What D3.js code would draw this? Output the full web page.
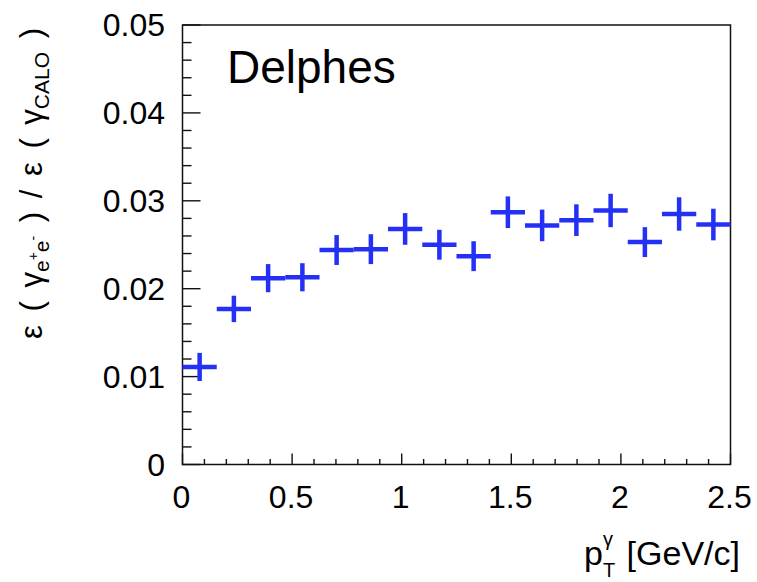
<!DOCTYPE html>
<html>
<head>
<meta charset="utf-8">
<script src="https://cdn.jsdelivr.net/npm/d3@7"></script>
<style>
    body { margin: 0; background: #fff; }
    text { font-family: "Liberation Sans", Arial, Helvetica, sans-serif; fill: #000; }
</style>
</head>
<body>
<svg id="chart" width="757" height="582"></svg>
<script>
    // histogram bins (pT of the photon, GeV/c)
    var binLow = [0, 0.15625, 0.3125, 0.46875, 0.625, 0.78125, 0.9375, 1.09375,
        1.25, 1.40625, 1.5625, 1.71875, 1.875, 2.03125, 2.1875, 2.34375];
    var binWidth = 0.15625;
    // ratio eff(gamma -> e+e-) / eff(gamma CALO)
    var ratio = [0.0111, 0.0177, 0.0212, 0.0213, 0.0244, 0.0245, 0.0268, 0.0250,
        0.0237, 0.0287, 0.0272, 0.0278, 0.0289, 0.0253, 0.0285, 0.0273];
    var ratioErr = [0.0016, 0.0015, 0.0016, 0.0016, 0.0017, 0.0017, 0.0018, 0.0017,
        0.0017, 0.0018, 0.0018, 0.0018, 0.0019, 0.0017, 0.0019, 0.0018];
    var xTicks = [0, 0.5, 1, 1.5, 2, 2.5];
    var yTicks = [0, 0.01, 0.02, 0.03, 0.04, 0.05];
    var xTickLabels = ["0", "0.5", "1", "1.5", "2", "2.5"];
    var yTickLabels = ["0", "0.01", "0.02", "0.03", "0.04", "0.05"];

    var svg = d3.select("#chart");
    var frame = {left: 182.5, right: 730.5, top: 25, bottom: 464.5};

    var x = d3.scaleLinear().domain([0, 2.5]).range([frame.left, frame.right]);
    var y = d3.scaleLinear().domain([0, 0.05]).range([frame.bottom, frame.top]);

    var points = binLow.map(function (lo, i) {
        return {lo: lo, hi: lo + binWidth, v: ratio[i], e: ratioErr[i]};
    });

    // frame
    svg.append("rect")
        .attr("x", frame.left).attr("y", frame.top)
        .attr("width", frame.right - frame.left)
        .attr("height", frame.bottom - frame.top)
        .attr("fill", "none").attr("stroke", "#111").attr("stroke-width", 1.5);

    // y axis: major every 0.01, minor every 0.002, ticks pointing inwards
    var yMinor = d3.range(0, 26).map(function (k) { return k * 0.002; });
    svg.append("g").selectAll("line")
        .data(yMinor)
        .enter().append("line")
        .attr("x1", frame.left)
        .attr("x2", function (d, i) { return frame.left + (i % 5 === 0 ? 18 : 9); })
        .attr("y1", function (d) { return y(d); })
        .attr("y2", function (d) { return y(d); })
        .attr("stroke", "#111").attr("stroke-width", 1.4);

    // x axis: major every 0.5, minor every 0.1
    var xMinor = d3.range(0, 26).map(function (k) { return k / 10; });
    svg.append("g").selectAll("line")
        .data(xMinor)
        .enter().append("line")
        .attr("x1", function (d) { return x(d); })
        .attr("x2", function (d) { return x(d); })
        .attr("y1", frame.bottom)
        .attr("y2", function (d, i) { return frame.bottom - (i % 5 === 0 ? 11 : 5.5); })
        .attr("stroke", "#111").attr("stroke-width", 1.4);

    svg.append("g").selectAll("text")
        .data(yTicks)
        .enter().append("text")
        .attr("x", 165)
        .attr("y", function (d) { return y(d) + 11; })
        .attr("text-anchor", "end")
        .style("font-size", "32px")
        .text(function (d, i) { return yTickLabels[i]; });

    svg.append("g").selectAll("text")
        .data(xTicks)
        .enter().append("text")
        .attr("x", function (d) { return x(d) - 1; })
        .attr("y", 508)
        .attr("text-anchor", "middle")
        .style("font-size", "32px")
        .text(function (d, i) { return xTickLabels[i]; });

    // markers: horizontal bar = bin width, vertical bar = stat. error
    var marks = svg.append("g").attr("stroke", "#2430f5").attr("stroke-width", 4.5);
    marks.selectAll("line.h")
        .data(points)
        .enter().append("line")
        .attr("class", "h")
        .attr("x1", function (d) { return x(d.lo); })
        .attr("x2", function (d) { return x(d.hi); })
        .attr("y1", function (d) { return y(d.v); })
        .attr("y2", function (d) { return y(d.v); });
    marks.selectAll("line.v")
        .data(points)
        .enter().append("line")
        .attr("class", "v")
        .attr("x1", function (d) { return x((d.lo + d.hi) / 2); })
        .attr("x2", function (d) { return x((d.lo + d.hi) / 2); })
        .attr("y1", function (d) { return y(d.v - d.e); })
        .attr("y2", function (d) { return y(d.v + d.e); });

    svg.append("text")
        .attr("x", 227).attr("y", 83)
        .style("font-size", "46px")
        .text("Delphes");

    // x title  p_T^gamma [GeV/c]
    var xt = svg.append("text")
        .attr("x", 740).attr("y", 565)
        .attr("text-anchor", "end")
        .style("font-size", "34px");
    xt.append("tspan").text("p");
    xt.append("tspan").attr("dy", -19).style("font-size", "20px").text("γ");
    xt.append("tspan").attr("dx", -10).attr("dy", 31).style("font-size", "20px").text("T");
    xt.append("tspan").attr("dx", 2).attr("dy", -12).text(" [GeV/c]");

    // y title  eps(gamma_{e+e-}) / eps(gamma_CALO)
    var yt = svg.append("text")
        .attr("transform", "translate(42,28) rotate(-90)")
        .attr("text-anchor", "end")
        .style("font-size", "31px")
        .style("word-spacing", "5px");
    yt.append("tspan").text("ε ( γ");
    yt.append("tspan").attr("dy", 7).style("font-size", "21px").text("e");
    yt.append("tspan").attr("dy", -11).style("font-size", "14px").text("+");
    yt.append("tspan").attr("dy", 11).style("font-size", "21px").text("e");
    yt.append("tspan").attr("dy", -11).style("font-size", "14px").text("-");
    yt.append("tspan").attr("dy", 4).text(" ) / ε ( γ");
    yt.append("tspan").attr("dy", 7).style("font-size", "21px").text("CALO");
    yt.append("tspan").attr("dy", -7).text(" )");
</script>
</body>
</html>
